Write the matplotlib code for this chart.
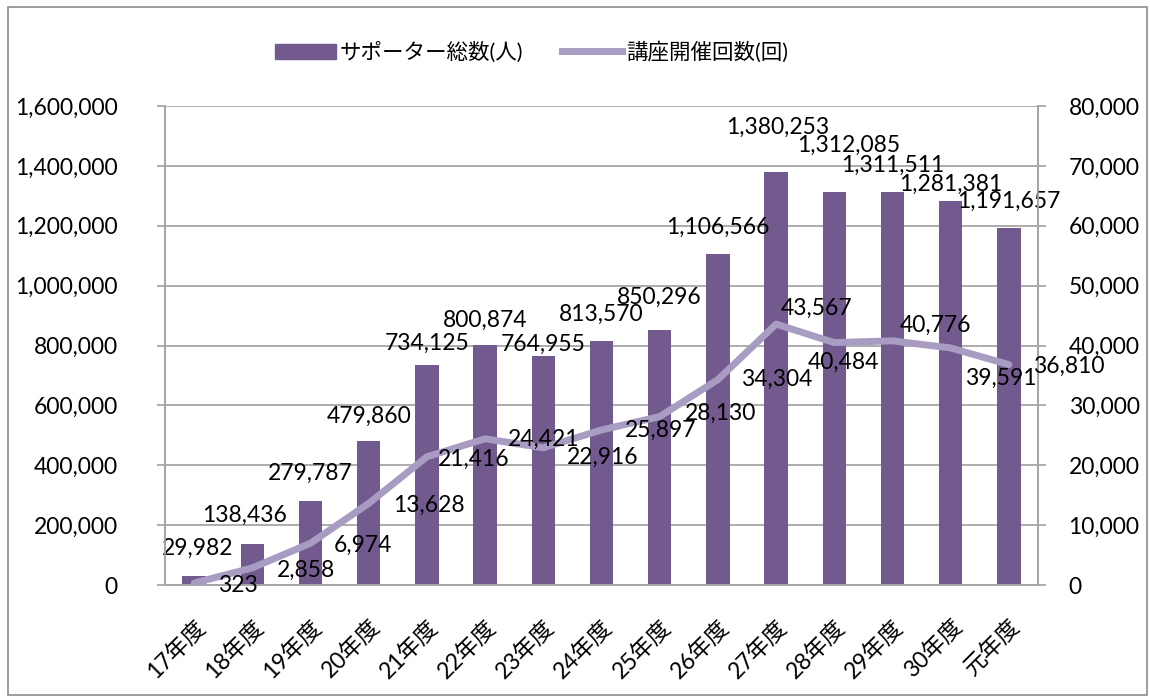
import matplotlib
matplotlib.use("Agg")
import matplotlib.pyplot as plt
from matplotlib.patches import Rectangle
from matplotlib.lines import Line2D
from matplotlib.ticker import FuncFormatter
import numpy as np

plt.rcParams['font.family'] = ['Lato', 'Noto Sans CJK JP', 'DejaVu Sans']

# data
years = ['17年度', '18年度', '19年度', '20年度', '21年度', '22年度', '23年度', '24年度',
         '25年度', '26年度', '27年度', '28年度', '29年度', '30年度', '元年度']
supporters = [29982, 138436, 279787, 479860, 734125, 800874, 764955, 813570,
              850296, 1106566, 1380253, 1312085, 1311511, 1281381, 1191657]
courses = [323, 2858, 6974, 13628, 21416, 24421, 22916, 25897,
           28130, 34304, 43567, 40484, 40776, 39591, 36810]
bar_name = 'サポーター総数(人)'
line_name = '講座開催回数(回)'

# label offsets in pixels (dx, dy), as placed in the original
bar_off = [(4, 28), (-8, 28), (0, 28), (0, 25), (0, 22), (0, 25), (0, 12), (0, 27),
           (0, 33), (0, 26), (2, 44), (14, 47), (0, 27), (0, 17), (0, 27)]
line_off = [(44, -2), (54, -2), (52, -2), (60, -2), (47, -3), (59, -1), (59, -10), (59, 0),
            (61, 3), (59, 0), (40, 16), (9, -20), (43, 16), (50, -30), (60, -2)]

bar_col = '#725a8f'
line_col = '#a99cc3'
grid_col = '#a6a6a6'
fs = 16.5

W, H = 1150, 697
fig = plt.figure(figsize=(W / 100, H / 100), dpi=100)
fig.patches.append(Rectangle((8 / W, 2 / H), 1139 / W, 688 / H, transform=fig.transFigure,
                             fill=False, edgecolor='#8c8c8c', lw=1.2))

ax = fig.add_axes([165 / W, 1 - 585 / H, (1038 - 165) / W, (585 - 106) / H])
ax2 = ax.twinx()

x = np.arange(len(years))
ax.bar(x, supporters, width=0.4, color=bar_col, zorder=2)
ax2.plot(x, courses, color=line_col, lw=5, solid_capstyle='round', solid_joinstyle='round', zorder=3)

ax.set_xlim(-0.5, len(years) - 0.5)
ax.set_ylim(0, 1600000)
ax.set_yticks(np.arange(0, 1600001, 200000))
ax2.set_ylim(0, 80000)
ax2.set_yticks(np.arange(0, 80001, 10000))
fmt = FuncFormatter(lambda v, p: f'{int(v):,}')
ax.yaxis.set_major_formatter(fmt)
ax2.yaxis.set_major_formatter(fmt)

ax.yaxis.grid(True, color=grid_col, lw=1.3, zorder=0)
ax.set_axisbelow(True)
for a in (ax, ax2):
    a.spines['top'].set_visible(False)
    for s in ('left', 'right', 'bottom'):
        a.spines[s].set_color(grid_col)
        a.spines[s].set_linewidth(1.3)
    a.tick_params(axis='y', colors=grid_col, length=6, width=1.3, labelsize=fs, labelcolor='black')
ax.tick_params(axis='y', pad=28)
ax2.tick_params(axis='y', pad=16)
ax.tick_params(axis='x', length=0, labelsize=fs, pad=22)
ax.set_xticks(x)
ax.set_xticklabels(years, rotation=45, ha='right', rotation_mode='anchor')

for i, v in enumerate(supporters):
    ax.annotate(f'{v:,}', (x[i], v), xytext=bar_off[i], textcoords='offset pixels',
                ha='center', va='center', fontsize=fs, zorder=5)
for i, v in enumerate(courses):
    ax2.annotate(f'{v:,}', (x[i], v), xytext=line_off[i], textcoords='offset pixels',
                 ha='center', va='center', fontsize=fs, zorder=5)

handles = [Rectangle((0, 0), 1, 1, color=bar_col), Line2D([], [], color=line_col, lw=5)]
fig.legend(handles, [bar_name, line_name], loc='center', bbox_to_anchor=(532 / W, 1 - 52 / H),
           ncol=2, frameon=False, fontsize=15.5, handlelength=2.8, handleheight=0.7,
           columnspacing=1.8, handletextpad=0.2)

fig.savefig('out.png', dpi=100)
